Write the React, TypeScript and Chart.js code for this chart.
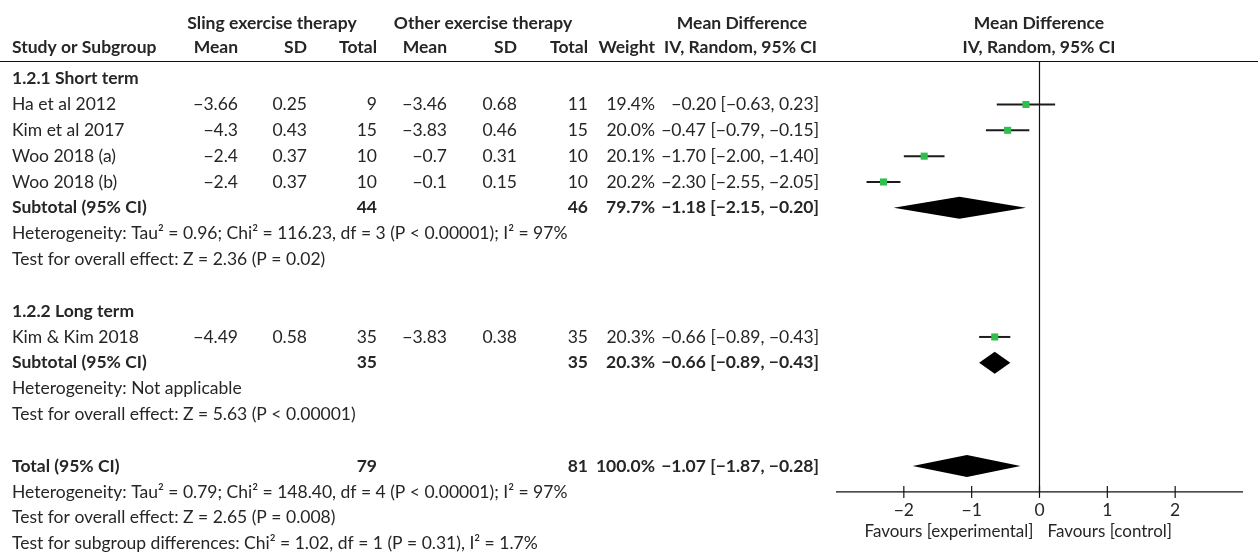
import { useEffect, useRef } from 'react';
import { Chart, registerables } from 'chart.js';

Chart.register(...registerables);

// Study-level data
const studyNames = ['Ha et al 2012', 'Kim et al 2017', 'Woo 2018 (a)', 'Woo 2018 (b)', 'Kim & Kim 2018'];
const slingMean = [-3.66, -4.3, -2.4, -2.4, -4.49];
const slingSD = [0.25, 0.43, 0.37, 0.37, 0.58];
const slingTotal = [9, 15, 10, 10, 35];
const otherMean = [-3.46, -3.83, -0.7, -0.1, -3.83];
const otherSD = [0.68, 0.46, 0.31, 0.15, 0.38];
const otherTotal = [11, 15, 10, 10, 35];
const studyWeight = [19.4, 20.0, 20.1, 20.2, 20.3];
const studyMD = [-0.2, -0.47, -1.7, -2.3, -0.66];
const studyLow = [-0.63, -0.79, -2.0, -2.55, -0.89];
const studyHigh = [0.23, -0.15, -1.4, -2.05, -0.43];
const studyRows = [1, 2, 3, 4, 10];

// Pooled estimates: short-term subtotal, long-term subtotal, overall total
const pooledNames = ['Subtotal (95% CI)', 'Subtotal (95% CI)', 'Total (95% CI)'];
const pooledSlingTotal = [44, 35, 79];
const pooledOtherTotal = [46, 35, 81];
const pooledWeight = [79.7, 20.3, 100.0];
const pooledMD = [-1.18, -0.66, -1.07];
const pooledLow = [-2.15, -0.89, -1.87];
const pooledHigh = [-0.2, -0.43, -0.28];
const pooledRows = [5, 11, 15];

// Subgroup headings and statistics lines
const subgroupLabels = ['1.2.1 Short term', '1.2.2 Long term'];
const subgroupRows = [0, 9];
const statLines = [
  'Heterogeneity: Tau² = 0.96; Chi² = 116.23, df = 3 (P < 0.00001); I² = 97%',
  'Test for overall effect: Z = 2.36 (P = 0.02)',
  'Heterogeneity: Not applicable',
  'Test for overall effect: Z = 5.63 (P < 0.00001)',
  'Heterogeneity: Tau² = 0.79; Chi² = 148.40, df = 4 (P < 0.00001); I² = 97%',
  'Test for overall effect: Z = 2.65 (P = 0.008)',
  'Test for subgroup differences: Chi² = 1.02, df = 1 (P = 0.31), I² = 1.7%',
];
const statRows = [6, 7, 12, 13, 16, 17, 18];

// Axis
const tickValues = [-2, -1, 0, 1, 2];
const xMin = -3;
const xMax = 3;
const favoursLeft = 'Favours [experimental]';
const favoursRight = 'Favours [control]';

const FONT = 'Lato, "Open Sans", sans-serif';
const SIZE = 17.5;
const TEXT = '#262626';
const GREEN = '#2fbf4c';

// Column right edges of the table
const COL = {
  name: 12,
  m1: 238,
  sd1: 307,
  n1: 377,
  m2: 447,
  sd2: 517,
  n2: 588,
  w: 655,
  ci: 819,
};

const fmt = (v: number) => String(v).replace('-', '−');
const fmt2 = (v: number) => v.toFixed(2).replace('-', '−');
const ciText = (m: number, l: number, h: number) => `${fmt2(m)} [${fmt2(l)}, ${fmt2(h)}]`;

const forestPlugin = {
  id: 'forestTable',
  beforeDatasetsDraw(chart: any) {
    const { ctx, scales } = chart;
    const x = scales.x;
    const y = scales.y;
    ctx.save();
    ctx.strokeStyle = '#111';
    ctx.lineWidth = 1.2;
    // header rule
    ctx.beginPath();
    ctx.moveTo(0, 61.5);
    ctx.lineTo(1258, 61.5);
    ctx.stroke();
    // line of no effect
    const axisY = y.getPixelForValue(16.0);
    const x0 = x.getPixelForValue(0);
    ctx.beginPath();
    ctx.moveTo(x0, 61.5);
    ctx.lineTo(x0, axisY);
    ctx.stroke();
    // horizontal axis
    ctx.beginPath();
    ctx.moveTo(x.getPixelForValue(xMin), axisY);
    ctx.lineTo(x.getPixelForValue(xMax), axisY);
    ctx.stroke();
    ctx.fillStyle = TEXT;
    ctx.font = `${SIZE}px ${FONT}`;
    ctx.textAlign = 'center';
    ctx.textBaseline = 'middle';
    tickValues.forEach((t) => {
      const px = x.getPixelForValue(t);
      ctx.beginPath();
      ctx.moveTo(px, axisY - 6);
      ctx.lineTo(px, axisY + 6);
      ctx.stroke();
      ctx.fillText(fmt(t), px, axisY + 18);
    });
    ctx.font = `17px ${FONT}`;
    ctx.textAlign = 'right';
    ctx.fillText(favoursLeft, x0 - 6, axisY + 40);
    ctx.textAlign = 'left';
    ctx.fillText(favoursRight, x0 + 8, axisY + 40);
    ctx.restore();
  },
  afterDatasetsDraw(chart: any) {
    const { ctx, scales } = chart;
    const x = scales.x;
    const y = scales.y;
    ctx.save();
    ctx.fillStyle = '#000';
    pooledRows.forEach((r, i) => {
      const cy = y.getPixelForValue(r);
      ctx.beginPath();
      ctx.moveTo(x.getPixelForValue(pooledLow[i]), cy);
      ctx.lineTo(x.getPixelForValue(pooledMD[i]), cy - 11);
      ctx.lineTo(x.getPixelForValue(pooledHigh[i]), cy);
      ctx.lineTo(x.getPixelForValue(pooledMD[i]), cy + 11);
      ctx.closePath();
      ctx.fill();
    });
    ctx.restore();
  },
  afterDraw(chart: any) {
    const { ctx, scales } = chart;
    const y = scales.y;
    ctx.save();
    ctx.fillStyle = TEXT;
    ctx.textBaseline = 'middle';
    const put = (s: string, px: number, row: number, align: CanvasTextAlign, bold = false) => {
      ctx.font = `${bold ? 'bold ' : ''}${SIZE}px ${FONT}`;
      ctx.textAlign = align;
      ctx.fillText(s, px, y.getPixelForValue(row));
    };
    // headers
    const h1 = -2.15;
    put('Sling exercise therapy', 272, h1, 'center', true);
    put('Other exercise therapy', 483, h1, 'center', true);
    put('Mean Difference', 742, h1, 'center', true);
    put('Mean Difference', 1039, h1, 'center', true);
    const h = -1.2;
    put('Study or Subgroup', COL.name, h, 'left', true);
    put('Mean', COL.m1, h, 'right', true);
    put('SD', COL.sd1, h, 'right', true);
    put('Total', COL.n1, h, 'right', true);
    put('Mean', COL.m2, h, 'right', true);
    put('SD', COL.sd2, h, 'right', true);
    put('Total', COL.n2, h, 'right', true);
    put('Weight', COL.w, h, 'right', true);
    put('IV, Random, 95% CI', COL.ci - 2, h, 'right', true);
    put('IV, Random, 95% CI', 1039, h, 'center', true);

    subgroupLabels.forEach((s, i) => put(s, COL.name, subgroupRows[i], 'left', true));

    studyNames.forEach((s, i) => {
      const r = studyRows[i];
      put(s, COL.name, r, 'left');
      put(fmt(slingMean[i]), COL.m1, r, 'right');
      put(fmt(slingSD[i]), COL.sd1, r, 'right');
      put(String(slingTotal[i]), COL.n1, r, 'right');
      put(fmt(otherMean[i]), COL.m2, r, 'right');
      put(fmt(otherSD[i]), COL.sd2, r, 'right');
      put(String(otherTotal[i]), COL.n2, r, 'right');
      put(studyWeight[i].toFixed(1) + '%', COL.w, r, 'right');
      put(ciText(studyMD[i], studyLow[i], studyHigh[i]), COL.ci, r, 'right');
    });

    pooledNames.forEach((s, i) => {
      const r = pooledRows[i];
      put(s, COL.name, r, 'left', true);
      put(String(pooledSlingTotal[i]), COL.n1, r, 'right', true);
      put(String(pooledOtherTotal[i]), COL.n2, r, 'right', true);
      put(pooledWeight[i].toFixed(1) + '%', COL.w, r, 'right', true);
      put(ciText(pooledMD[i], pooledLow[i], pooledHigh[i]), COL.ci, r, 'right', true);
    });

    statLines.forEach((s, i) => put(s, COL.name, statRows[i], 'left'));
    ctx.restore();
  },
};

export default function App() {
  const ref = useRef<HTMLCanvasElement | null>(null);

  useEffect(() => {
    if (!ref.current) return;
    const ciSets = studyRows.map((r, i) => ({
      type: 'line' as const,
      data: [
        { x: studyLow[i], y: r },
        { x: studyHigh[i], y: r },
      ],
      borderColor: '#1c1c1c',
      borderWidth: 2,
      pointRadius: 0,
      showLine: true,
      order: 2,
    }));
    const chart = new Chart(ref.current, {
      type: 'scatter',
      data: {
        datasets: [
          ...ciSets,
          {
            type: 'scatter' as const,
            data: studyRows.map((r, i) => ({ x: studyMD[i], y: r })),
            pointStyle: 'rect',
            pointRadius: 5,
            backgroundColor: GREEN,
            borderColor: GREEN,
            borderWidth: 0,
            order: 1,
          },
        ] as any,
      },
      options: {
        responsive: false,
        maintainAspectRatio: false,
        animation: false,
        events: [],
        layout: { padding: { left: 836, right: 15, top: 0, bottom: 0 } },
        plugins: { legend: { display: false }, tooltip: { enabled: false } },
        scales: {
          x: { type: 'linear', min: xMin, max: xMax, display: false },
          y: { type: 'linear', min: -2.852, max: 18.403, reverse: true, display: false },
        },
      },
      plugins: [forestPlugin],
    });
    return () => chart.destroy();
  }, []);

  return (
    <div style={{ position: 'fixed', left: 0, top: 0, width: 1258, height: 559, background: '#fff' }}>
      <canvas ref={ref} width={1258} height={559} style={{ display: 'block' }} />
    </div>
  );
}
